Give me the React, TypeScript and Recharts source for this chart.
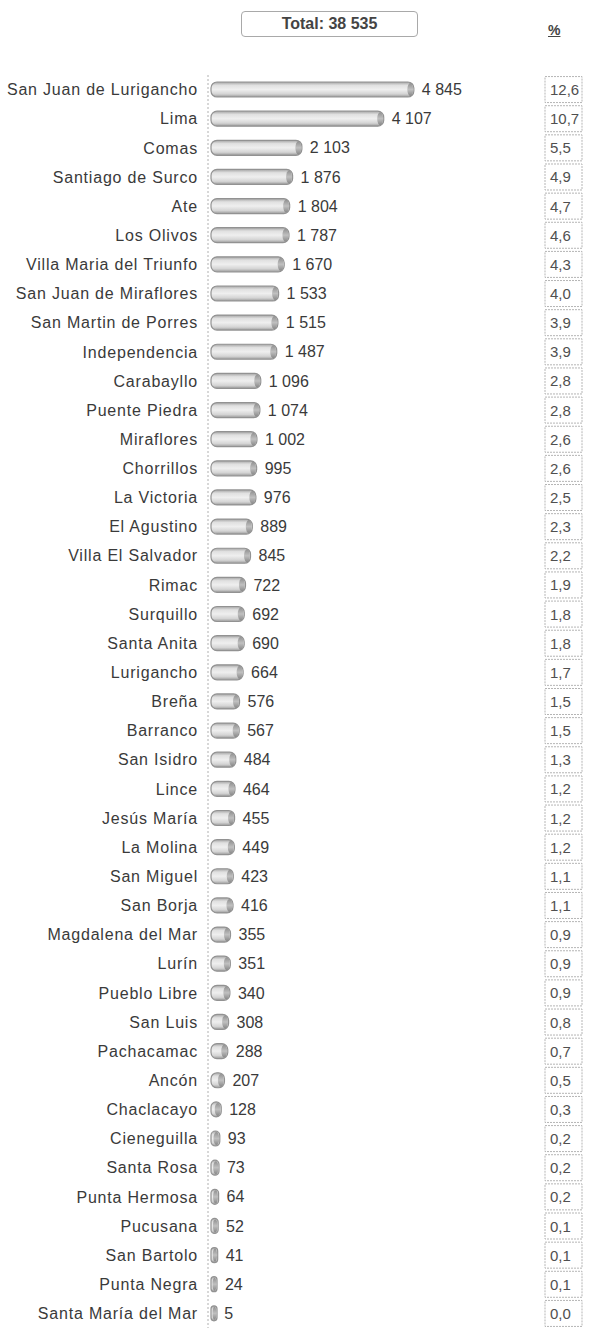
import { Bar, BarChart, LabelList, XAxis, YAxis } from "recharts";

const DISTRICTS = [
  "San Juan de Lurigancho", "Lima", "Comas", "Santiago de Surco", "Ate", "Los Olivos",
  "Villa Maria del Triunfo", "San Juan de Miraflores", "San Martin de Porres", "Independencia",
  "Carabayllo", "Puente Piedra", "Miraflores", "Chorrillos", "La Victoria", "El Agustino",
  "Villa El Salvador", "Rimac", "Surquillo", "Santa Anita", "Lurigancho", "Breña", "Barranco",
  "San Isidro", "Lince", "Jesús María", "La Molina", "San Miguel", "San Borja",
  "Magdalena del Mar", "Lurín", "Pueblo Libre", "San Luis", "Pachacamac", "Ancón",
  "Chaclacayo", "Cieneguilla", "Santa Rosa", "Punta Hermosa", "Pucusana", "San Bartolo",
  "Punta Negra", "Santa María del Mar",
];

const COUNTS = [
  4845, 4107, 2103, 1876, 1804, 1787, 1670, 1533, 1515, 1487, 1096, 1074, 1002, 995, 976, 889,
  845, 722, 692, 690, 664, 576, 567, 484, 464, 455, 449, 423, 416, 355, 351, 340, 308, 288, 207,
  128, 93, 73, 64, 52, 41, 24, 5,
];

const SHARES = [
  "12,6", "10,7", "5,5", "4,9", "4,7", "4,6", "4,3", "4,0", "3,9", "3,9", "2,8", "2,8", "2,6",
  "2,6", "2,5", "2,3", "2,2", "1,9", "1,8", "1,8", "1,7", "1,5", "1,5", "1,3", "1,2", "1,2",
  "1,2", "1,1", "1,1", "0,9", "0,9", "0,9", "0,8", "0,7", "0,5", "0,3", "0,2", "0,2", "0,2",
  "0,1", "0,1", "0,1", "0,0",
];

const TOTAL = 38535;

const FONT = "'Liberation Sans', Arial, sans-serif";
const TEXT = "#3a3a3a";

const data = DISTRICTS.map((name, i) => ({ name, value: COUNTS[i], pct: SHARES[i] }));

const fmt = (v: number) => String(v).replace(/\B(?=(\d{3})+(?!\d))/g, " ");

function CylinderBar(props: any) {
  const { x, y, width, height } = props;
  const x0 = x + 3;
  const w = Math.max(width + 5, 6);
  const r = Math.min(6, w / 2);
  const capR = Math.min(3, w / 3);
  return (
    <g>
      <rect x={x0} y={y} width={w} height={height} rx={r} ry={r} fill="url(#cylGrad)" stroke="#929292" strokeWidth={1.2} />
      <ellipse cx={x0 + w - capR - 0.5} cy={y + height / 2} rx={capR} ry={height / 2 - 1} fill="url(#capGrad)" />
    </g>
  );
}

function PctTick(props: any) {
  const { x, y, payload } = props;
  const pct = SHARES[payload.index] ?? "";
  return (
    <g>
      <rect x={x} y={y - 13} width={37} height={26} fill="#fff" stroke="#b5b5b5" strokeDasharray="2 1" />
      <text x={x + 5} y={y} dominantBaseline="central" fontSize={15} fontFamily={FONT} fill="#505050">
        {pct}
      </text>
    </g>
  );
}

export default function App() {
  return (
    <div style={{ position: "absolute", left: 0, top: 0, width: 593, height: 1331, background: "#fff", fontFamily: FONT }}>
      <div
        style={{
          position: "absolute", left: 241, top: 11, width: 177, height: 26, border: "1px solid #a9a9a9",
          borderRadius: 4, display: "flex", alignItems: "center", justifyContent: "center",
          fontSize: 16, fontWeight: 700, color: "#444", boxSizing: "border-box",
        }}
      >
        Total: {fmt(TOTAL)}
      </div>
      <div style={{ position: "absolute", left: 548, top: 22, fontSize: 14, fontWeight: 700, color: "#444", textDecoration: "underline" }}>%</div>
      <BarChart
        width={593}
        height={1331}
        data={data}
        layout="vertical"
        margin={{ top: 75, right: 0, bottom: 3, left: 0 }}
        barCategoryGap={0}
      >
        <defs>
          <linearGradient id="cylGrad" x1="0" y1="0" x2="0" y2="1">
            <stop offset="0%" stopColor="#a4a4a4" />
            <stop offset="22%" stopColor="#e0e0e0" />
            <stop offset="50%" stopColor="#efefef" />
            <stop offset="80%" stopColor="#d4d4d4" />
            <stop offset="100%" stopColor="#9a9a9a" />
          </linearGradient>
          <linearGradient id="capGrad" x1="0" y1="0" x2="0" y2="1">
            <stop offset="0%" stopColor="#909090" />
            <stop offset="50%" stopColor="#c0c0c0" />
            <stop offset="100%" stopColor="#888888" />
          </linearGradient>
        </defs>
        <XAxis type="number" domain={[0, 6000]} hide />
        <YAxis
          yAxisId="left"
          type="category"
          dataKey="name"
          width={208}
          tickLine={false}
          tickSize={0}
          tickMargin={10}
          interval={0}
          axisLine={{ stroke: "#b0b0b0", strokeDasharray: "2 2" }}
          tick={{ fill: TEXT, fontSize: 16, fontFamily: FONT, letterSpacing: 0.8 }}
        />
        <YAxis
          yAxisId="pct"
          orientation="right"
          type="category"
          dataKey="name"
          width={140}
          tickLine={false}
          tickSize={0}
          tickMargin={92}
          interval={0}
          axisLine={false}
          tick={<PctTick />}
        />
        <Bar yAxisId="left" dataKey="value" barSize={15} shape={<CylinderBar />} isAnimationActive={false}>
          <LabelList
            dataKey="value"
            position="right"
            offset={16}
            formatter={(v: any) => fmt(Number(v))}
            fill={TEXT}
            fontSize={16}
            fontFamily={FONT}
          />
        </Bar>
      </BarChart>
    </div>
  );
}
